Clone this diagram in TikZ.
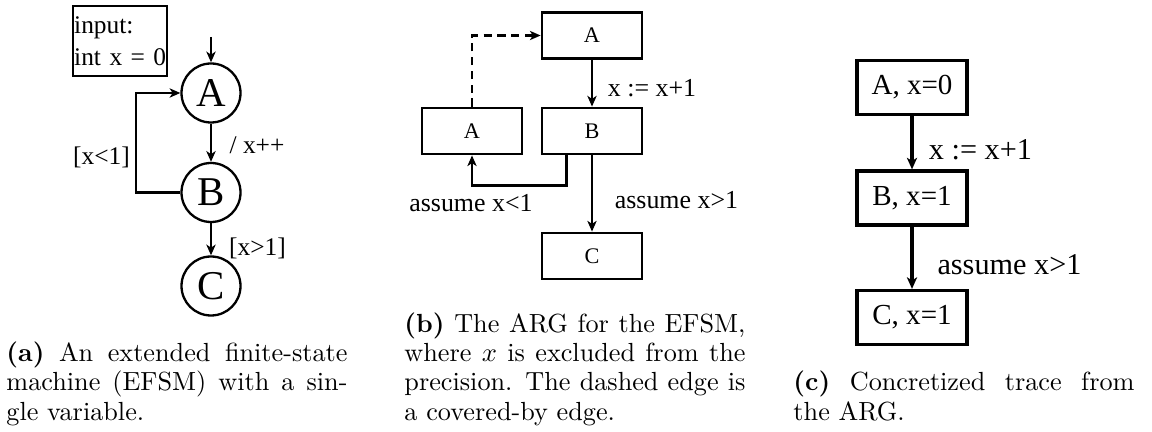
\documentclass[tikz,border=0pt]{standalone}
\usepackage{fontspec}
\newfontfamily\tms{Liberation Serif}
\usetikzlibrary{arrows.meta}
\newlength\pu
\setlength\pu{0.4132pt}
\tikzset{
  arr/.style={line width=1.05pt, -{Stealth[length=4.4pt, width=3.8pt, inset=1.2pt]}},
  arrb/.style={line width=1.05pt, -{Stealth[length=4.4pt, width=3.8pt, inset=1.2pt]}},
  arrc/.style={line width=1.35pt, -{Stealth[length=4.8pt, width=4.2pt, inset=1.3pt]}},
  circ/.style={circle, draw, line width=0.95pt, minimum size=59*\pu, inner sep=0pt,
    font=\tms\fontsize{16.9}{17}\selectfont},
  inbox/.style={draw, line width=1pt, anchor=north west, inner xsep=1*\pu, inner ysep=0pt,
    text width=92*\pu, minimum height=70*\pu, align=left, font=\tms\fontsize{10.5}{13.6}\selectfont},
  lbla/.style={inner sep=0pt, font=\tms\fontsize{10.5}{12}\selectfont},
  bbox/.style={draw, line width=1.15pt, minimum width=100*\pu, minimum height=46*\pu, inner sep=0pt,
    font=\tms\fontsize{9.2}{11}\selectfont},
  lblb/.style={inner sep=0pt, font=\tms\fontsize{10.7}{12}\selectfont},
  cbox/.style={draw, line width=1.3pt, minimum width=110*\pu, minimum height=54*\pu, inner sep=0pt,
    font=\tms\fontsize{12}{14}\selectfont},
  lblc/.style={inner sep=0pt, font=\tms\fontsize{12.5}{14}\selectfont},
  captext/.style={anchor=base west, inner sep=0pt}
}
\newcommand\capfnt{\fontsize{10.83}{12}\selectfont}
\begin{document}
\begin{tikzpicture}[x=0.4132pt, y=-0.4132pt]
\useasboundingbox (0,0) rectangle (1152,432);
% ---------- (a)
\node[inbox] (inp) at (72,5) {input:\\int x = 0};
\node[circ] (A) at (211,93) {A};
\node[circ] (B) at (211,192.5) {B};
\node[circ] (C) at (211,286) {C};
\coordinate (init) at (211,37);
\draw[arr] (init) -- (A);
\draw[arr] (A) -- (B);
\draw[arr] (B) -- (C);
\coordinate (lp) at (136,192.5);
\draw[arr] (B.west) -- (lp) |- (A.west);
\node[lbla] (la1) at (257,145) {/ x++};
\node[lbla] (la2) at (101.5,157) {[x<1]};
\node[lbla] (la3) at (257.5,248) {[x>1]};
% ---------- (b)
\node[bbox] (bA) at (592,35.5) {A};
\node[bbox] (bA2) at (472,131) {A};
\node[bbox] (bB) at (592,131) {B};
\node[bbox] (bC) at (592,256) {C};
\draw[arrb] (bA) -- (bB);
\draw[arrb] (bB) -- (bC);
\draw[arrb] ([xshift=-25.3*\pu]bB.south) -- ++(0,30) -| (bA2.south);
\draw[arrb, dashed, dash pattern=on 3.4pt off 2.3pt] (bA2.north) |- (bA.west);
\node[lblb] (lb1) at (652,88) {x := x+1};
\node[lblb] (lb2) at (471,203) {assume x<1};
\node[lblb] (lb3) at (676.5,200) {assume x>1};
% ---------- (c)
\node[cbox] (cA) at (912,87.5) {A, x=0};
\node[cbox] (cB) at (912,198) {B, x=1};
\node[cbox] (cC) at (912,317.5) {C, x=1};
\draw[arrc] (cA) -- (cB);
\draw[arrc] (cB) -- (cC);
\node[lblc] (lc1) at (980.5,150) {x := x+1};
\node[lblc] (lc2) at (1009.5,265) {assume x>1};
% ---------- captions
\node[captext] (capa) at (6,420) {\parbox[b]{341\pu}{\capfnt\textbf{(a)} An extended finite-state\linebreak machine (EFSM) with a sin-\linebreak gle variable.}};
\node[captext] (capb) at (404,420) {\parbox[b]{341\pu}{\capfnt\textbf{(b)} The ARG for the EFSM,\linebreak where $x$ is excluded from the\linebreak precision. The dashed edge is\linebreak a covered-by edge.}};
\node[captext] (capc) at (793,420) {\parbox[b]{341\pu}{\capfnt\textbf{(c)} Concretized trace from\linebreak the ARG.}};
\end{tikzpicture}
\end{document}
